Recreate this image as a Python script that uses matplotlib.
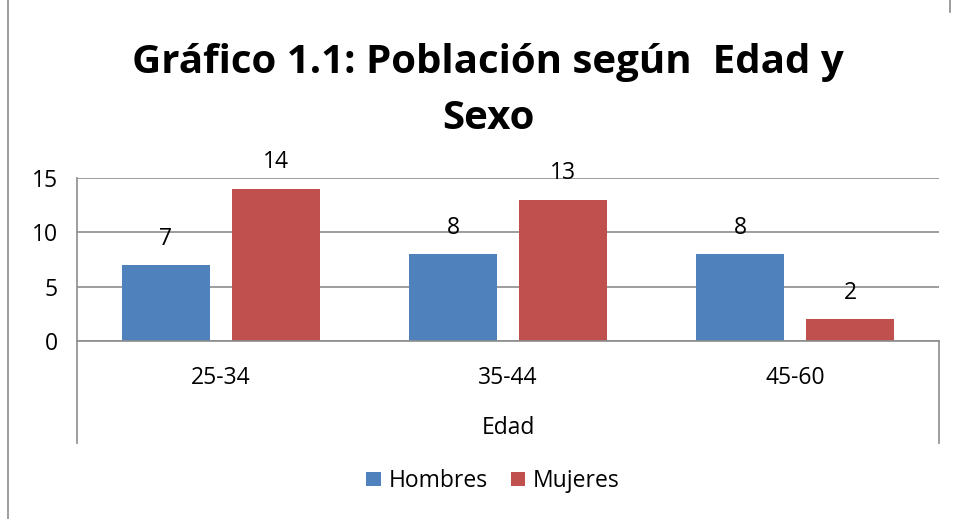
import matplotlib.pyplot as plt
import numpy as np

edades = ['25-34', '35-44', '45-60']
hombres = [7, 8, 8]
mujeres = [14, 13, 2]
series = ['Hombres', 'Mujeres']

plt.rcParams['font.family'] = ['Open Sans', 'DejaVu Sans']

fig = plt.figure(figsize=(9.58, 5.19), dpi=100)
ax = fig.add_axes([77 / 958, 1 - 341 / 519, (939 - 77) / 958, (341 - 178) / 519])

x = np.arange(len(edades))
ancho = 0.306
desp = 0.191
b1 = ax.bar(x - desp, hombres, ancho, color='#4F81BD', label=series[0], zorder=3)
b2 = ax.bar(x + desp, mujeres, ancho, color='#C0504D', label=series[1], zorder=3)

for barras in (b1, b2):
    for b in barras:
        ax.annotate(str(int(b.get_height())), (b.get_x() + b.get_width() / 2, b.get_height()),
                    xytext=(0, 19), textcoords='offset points', ha='center', va='center',
                    fontsize=16.5, zorder=4)

ax.set_xlim(-0.5, len(edades) - 0.5)
ax.set_ylim(0, 15)
ax.set_yticks([0, 5, 10, 15])
ax.tick_params(axis='y', length=0, pad=14, labelsize=16.5)
ax.set_xticks([])
ax.grid(axis='y', color='#8c8c8c', linewidth=1.2, zorder=0)
for s in ['top', 'right', 'left', 'bottom']:
    ax.spines[s].set_visible(False)

# ejes al estilo Excel
tr = ax.get_xaxis_transform()
ax.plot([-0.5, -0.5], [-0.626, 1], color='#8c8c8c', lw=1.2, transform=tr, clip_on=False)
ax.plot([2.5, 2.5], [-0.626, 0], color='#8c8c8c', lw=1.2, transform=tr, clip_on=False)
ax.plot([-0.5, 2.5], [0, 0], color='#8c8c8c', lw=1.2, transform=tr, clip_on=False, zorder=5)

for i, e in enumerate(edades):
    ax.text(i, -0.227, e, transform=tr, ha='center', va='center', fontsize=16.5)
ax.text(1, -0.534, 'Edad', transform=tr, ha='center', va='center', fontsize=16.5)

fig.text(488 / 958, 1 - 73 / 519, 'Gráfico 1.1: Población según  Edad y', ha='center',
         va='baseline', fontsize=29, fontweight='bold')
fig.text(488 / 958, 1 - 129 / 519, 'Sexo', ha='center', va='baseline', fontsize=29,
         fontweight='bold')

fig.legend(loc='center', bbox_to_anchor=(493 / 958, 1 - 481 / 519), ncol=2, frameon=False,
           fontsize=16.5, handlelength=0.62, handleheight=0.62, handletextpad=0.35,
           columnspacing=1.0)

# borde del gráfico
fig.add_artist(plt.Line2D([8 / 958, 8 / 958], [0, 1], color='#8c8c8c', lw=1.2))
fig.add_artist(plt.Line2D([950 / 958, 950 / 958], [1 - 12 / 519, 1], color='#8c8c8c', lw=1.2))

fig.savefig('out.png', dpi=100)
